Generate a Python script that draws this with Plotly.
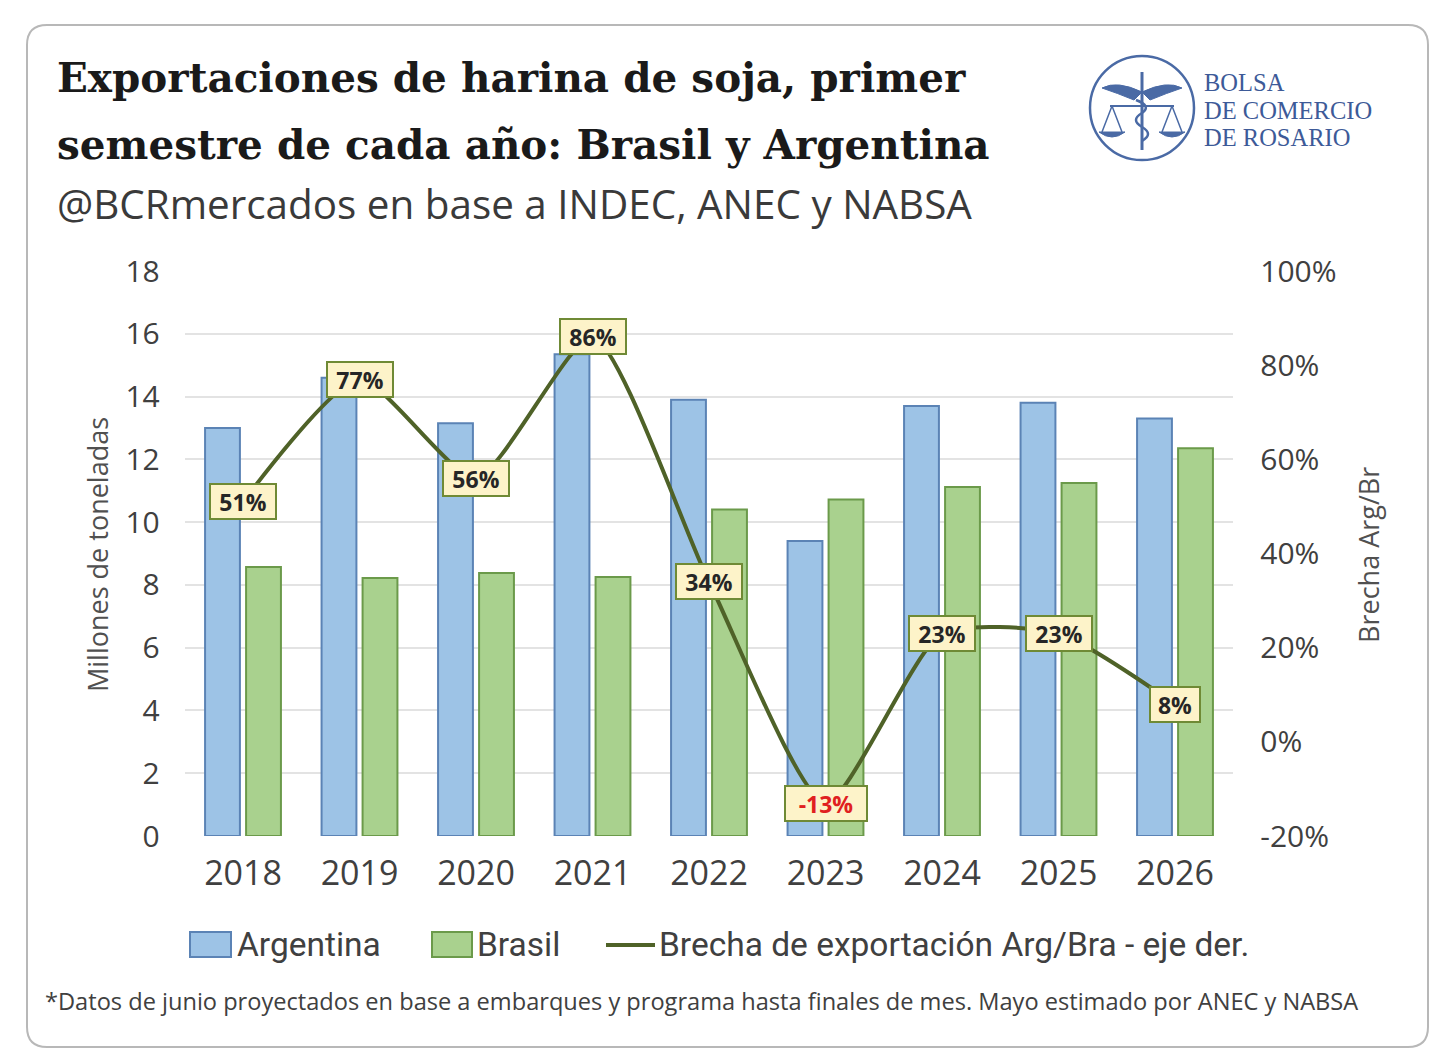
import plotly.graph_objects as go

W, H = 1440, 1063

years = ["2018", "2019", "2020", "2021", "2022", "2023", "2024", "2025", "2026"]
argentina = [13.0, 14.6, 13.15, 15.35, 13.9, 9.4, 13.7, 13.8, 13.3]
brasil = [8.57, 8.22, 8.38, 8.25, 10.4, 10.72, 11.12, 11.25, 12.35]
brecha = [0.51, 0.77, 0.56, 0.86, 0.34, -0.13, 0.23, 0.23, 0.08]
brecha_labels = ["51%", "77%", "56%", "86%", "34%", "-13%", "23%", "23%", "8%"]

left_ticks = list(range(0, 19, 2))
right_ticks = [-0.2, 0.0, 0.2, 0.4, 0.6, 0.8, 1.0]
right_tick_text = ["-20%", "0%", "20%", "40%", "60%", "80%", "100%"]


def px(x):
    return x / W


def py(y):
    return 1 - y / H


BLUE = "#9dc3e6"
BLUE_LINE = "#5b83b5"
GREEN = "#a9d18e"
GREEN_LINE = "#6b9a4a"
OLIVE = "#4f6228"
TXT = "#404040"

fig = go.Figure()
fig.add_trace(go.Bar(x=years, y=argentina, name="Argentina", marker=dict(color=BLUE, line=dict(color=BLUE_LINE, width=2)), showlegend=False))
fig.add_trace(go.Bar(x=years, y=brasil, name="Brasil", marker=dict(color=GREEN, line=dict(color=GREEN_LINE, width=2)), showlegend=False))
fig.add_trace(go.Scatter(x=years, y=brecha, name="Brecha de exportación Arg/Bra - eje der.", yaxis="y2", mode="lines",
                         line=dict(color=OLIVE, width=4, shape="spline", smoothing=0.6), showlegend=False))

annotations = []
for i, (v, lab) in enumerate(zip(brecha, brecha_labels)):
    annotations.append(dict(x=i, y=v, xref="x", yref="y2", text="<b>%s</b>" % lab, showarrow=False,
                            font=dict(family="Open Sans", size=23, color="#e02020" if v < 0 else "#262626"),
                            bgcolor="#fdf3c9", bordercolor="#6f8a35", borderwidth=2, borderpad=3,
                            width=16 * len(lab) + 10, height=27,
                            xanchor="center", yanchor="middle"))

# Title, subtitle, footnote
annotations += [
    dict(x=px(55), y=py(78), xref="paper", yref="paper", xanchor="left", yanchor="middle", showarrow=False,
         text="<b>Exportaciones de harina de soja, primer</b>", font=dict(family="DejaVu Serif", size=40.5, color="#1a1a1a")),
    dict(x=px(55), y=py(145), xref="paper", yref="paper", xanchor="left", yanchor="middle", showarrow=False,
         text="<b>semestre de cada año: Brasil y Argentina</b>", font=dict(family="DejaVu Serif", size=40.5, color="#1a1a1a")),
    dict(x=px(55), y=py(203), xref="paper", yref="paper", xanchor="left", yanchor="middle", showarrow=False,
         text="@BCRmercados en base a INDEC, ANEC y NABSA", font=dict(family="Open Sans", size=40.4, color="#3a3a3a")),
    dict(x=px(43), y=py(1001), xref="paper", yref="paper", xanchor="left", yanchor="middle", showarrow=False,
         text="*Datos de junio proyectados en base a embarques y programa hasta finales de mes. Mayo estimado por ANEC y NABSA",
         font=dict(family="Open Sans", size=23.6, color=TXT)),
]
# Axis titles
annotations += [
    dict(x=px(97), y=py(555), xref="paper", yref="paper", textangle=-90, showarrow=False, xanchor="center", yanchor="middle",
         text="Millones de toneladas", font=dict(family="Open Sans", size=27, color="#505050")),
    dict(x=px(1368), y=py(555), xref="paper", yref="paper", textangle=-90, showarrow=False, xanchor="center", yanchor="middle",
         text="Brecha Arg/Br", font=dict(family="Open Sans", size=27, color="#505050")),
]
# Legend (manual)
leg_font = dict(family="Roboto", size=33.5, color=TXT)
annotations += [
    dict(x=px(235), y=py(944), xref="paper", yref="paper", xanchor="left", yanchor="middle", showarrow=False, text="Argentina", font=leg_font),
    dict(x=px(475), y=py(944), xref="paper", yref="paper", xanchor="left", yanchor="middle", showarrow=False, text="Brasil", font=leg_font),
    dict(x=px(657), y=py(944), xref="paper", yref="paper", xanchor="left", yanchor="middle", showarrow=False,
         text="Brecha de exportación Arg/Bra - eje der.", font=leg_font),
]
# Logo text
logo_font = dict(family="Liberation Serif", size=24.5, color="#3d5a98")
for t, yy in [("BOLSA", 83), ("DE COMERCIO", 110), ("DE ROSARIO", 137)]:
    annotations.append(dict(x=px(1203), y=py(yy), xref="paper", yref="paper", xanchor="left", yanchor="middle",
                            showarrow=False, text=t, font=logo_font, borderpad=0))

shapes = []
# rounded border
x0, y0, x1, y1, r = 27, 25, 1428, 1047, 20
path = (f"M {px(x0+r)},{py(y0)} L {px(x1-r)},{py(y0)} Q {px(x1)},{py(y0)} {px(x1)},{py(y0+r)} "
        f"L {px(x1)},{py(y1-r)} Q {px(x1)},{py(y1)} {px(x1-r)},{py(y1)} "
        f"L {px(x0+r)},{py(y1)} Q {px(x0)},{py(y1)} {px(x0)},{py(y1-r)} "
        f"L {px(x0)},{py(y0+r)} Q {px(x0)},{py(y0)} {px(x0+r)},{py(y0)} Z")
shapes.append(dict(type="path", xref="paper", yref="paper", path=path, line=dict(color="#b8b8b8", width=2)))
# legend swatches
shapes.append(dict(type="rect", xref="paper", yref="paper", x0=px(190), x1=px(231), y0=py(957), y1=py(932),
                   fillcolor=BLUE, line=dict(color=BLUE_LINE, width=2)))
shapes.append(dict(type="rect", xref="paper", yref="paper", x0=px(432), x1=px(472), y0=py(957), y1=py(932),
                   fillcolor=GREEN, line=dict(color=GREEN_LINE, width=2)))
shapes.append(dict(type="line", xref="paper", yref="paper", x0=px(606), x1=px(655), y0=py(945), y1=py(945),
                   line=dict(color=OLIVE, width=4)))
# logo emblem
LC = "#4a6aa5"
cx, cy, cr = 1142, 108, 52
shapes.append(dict(type="circle", xref="paper", yref="paper", x0=px(cx-cr), x1=px(cx+cr), y0=py(cy+cr), y1=py(cy-cr),
                   line=dict(color=LC, width=2.5)))
shapes.append(dict(type="line", xref="paper", yref="paper", x0=px(cx), x1=px(cx), y0=py(72), y1=py(150), line=dict(color=LC, width=3)))
wing = (f"M {px(cx)},{py(92)} Q {px(cx-25)},{py(80)} {px(cx-40)},{py(88)} Q {px(cx-25)},{py(93)} {px(cx-8)},{py(100)} Z "
        f"M {px(cx)},{py(92)} Q {px(cx+25)},{py(80)} {px(cx+40)},{py(88)} Q {px(cx+25)},{py(93)} {px(cx+8)},{py(100)} Z")
shapes.append(dict(type="path", xref="paper", yref="paper", path=wing, fillcolor=LC, line=dict(color=LC, width=1)))
shapes.append(dict(type="line", xref="paper", yref="paper", x0=px(cx-32), x1=px(cx+32), y0=py(106), y1=py(106), line=dict(color=LC, width=2)))
for sx in (cx-30, cx+30):
    tri = f"M {px(sx)},{py(106)} L {px(sx-10)},{py(132)} M {px(sx)},{py(106)} L {px(sx+10)},{py(132)}"
    shapes.append(dict(type="path", xref="paper", yref="paper", path=tri, line=dict(color=LC, width=1.5)))
    pan = f"M {px(sx-13)},{py(132)} Q {px(sx)},{py(142)} {px(sx+13)},{py(132)} Z"
    shapes.append(dict(type="path", xref="paper", yref="paper", path=pan, fillcolor=LC, line=dict(color=LC, width=1)))
snake = (f"M {px(cx-6)},{py(100)} Q {px(cx+10)},{py(106)} {px(cx)},{py(113)} Q {px(cx-12)},{py(120)} {px(cx)},{py(127)} "
         f"Q {px(cx+12)},{py(134)} {px(cx)},{py(141)}")
shapes.append(dict(type="path", xref="paper", yref="paper", path=snake, line=dict(color=LC, width=2.5)))

fig.update_layout(
    width=W, height=H,
    margin=dict(l=0, r=0, t=0, b=0, autoexpand=False),
    paper_bgcolor="white", plot_bgcolor="white",
    barmode="group", bargap=0.296, bargroupgap=0.15,
    xaxis=dict(domain=[px(184.75), px(1233.25)], type="category", range=[-0.5, 8.5], showgrid=False, showline=False,
               zeroline=False, automargin=False,
               tickfont=dict(family="Open Sans", size=34, color=TXT), ticks="", ticklabelstandoff=14),
    yaxis=dict(domain=[py(836), py(271)], range=[0, 18], tickvals=left_ticks, showgrid=True, gridcolor="#e3e3e3", gridwidth=1.5,
               zeroline=False, showline=False, automargin=False,
               tickfont=dict(family="Open Sans", size=30, color=TXT), ticklabelstandoff=24),
    yaxis2=dict(overlaying="y", side="right", range=[-0.2, 1.0], tickvals=right_ticks, ticktext=right_tick_text,
                showgrid=False, zeroline=False, showline=False, automargin=False,
                tickfont=dict(family="Open Sans", size=30, color=TXT), ticklabelstandoff=26),
    annotations=annotations, shapes=shapes,
)

fig.write_html("out.html")
